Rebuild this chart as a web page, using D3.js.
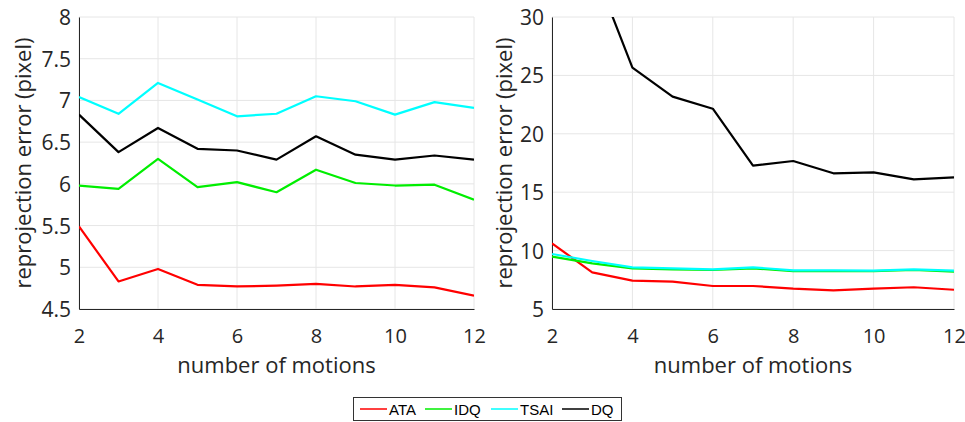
<!DOCTYPE html>
<meta charset="utf-8">
<script src="https://d3js.org/d3.v7.min.js"></script>
<style>
body { margin: 0; background: #fff; }
.tick text { font: 21px "Open Sans", sans-serif; fill: #262626; }
.xTicks .tick text { font-size: 20px; }
.axisTitle { font: 22px "Open Sans", sans-serif; fill: #262626; }
.legendText { font: 15px "Liberation Sans", Arial, sans-serif; fill: #000; }
</style>
<div id="chart"></div>
<script>
// data
const motions = [2, 3, 4, 5, 6, 7, 8, 9, 10, 11, 12];
const seriesNames = ["ATA", "IDQ", "TSAI", "DQ"];
const seriesColors = ["#ff0000", "#00ee00", "#00ffff", "#000000"];

const leftATA  = [5.49, 4.83, 4.98, 4.79, 4.77, 4.78, 4.80, 4.77, 4.79, 4.76, 4.66];
const leftIDQ  = [5.98, 5.94, 6.30, 5.96, 6.02, 5.90, 6.17, 6.01, 5.98, 5.99, 5.81];
const leftTSAI = [7.04, 6.84, 7.21, 7.01, 6.81, 6.84, 7.05, 6.99, 6.83, 6.98, 6.91];
const leftDQ   = [6.83, 6.38, 6.67, 6.42, 6.40, 6.29, 6.57, 6.35, 6.29, 6.34, 6.29];

const rightATA  = [10.62, 8.14, 7.43, 7.35, 6.97, 6.97, 6.74, 6.60, 6.74, 6.86, 6.65];
const rightIDQ  = [9.48, 8.91, 8.48, 8.40, 8.34, 8.48, 8.25, 8.25, 8.25, 8.34, 8.19];
const rightTSAI = [9.71, 9.11, 8.57, 8.48, 8.40, 8.57, 8.31, 8.31, 8.29, 8.40, 8.28];
const rightDQ   = [42.0, 34.5, 25.66, 23.18, 22.15, 17.27, 17.67, 16.62, 16.70, 16.10, 16.27];

const xTicks = [2, 4, 6, 8, 10, 12];
const leftYTicks = [4.5, 5, 5.5, 6, 6.5, 7, 7.5, 8];
const rightYTicks = [5, 10, 15, 20, 25, 30];

const W = 965, H = 422;
const svg = d3.select("#chart").append("svg")
  .attr("width", W).attr("height", H);

function panel(id, left, right, top, bottom, yDomain, yTicks, series, titleOff) {
  const x = d3.scaleLinear().domain([2, 12]).range([left, right]);
  const y = d3.scaleLinear().domain(yDomain).range([bottom, top]);
  const g = svg.append("g");

  // grid
  g.selectAll(".gx").data(xTicks).join("line")
    .attr("x1", d => x(d)).attr("x2", d => x(d))
    .attr("y1", top).attr("y2", bottom)
    .attr("stroke", "#e6e6e6").attr("stroke-width", 1);
  g.selectAll(".gy").data(yTicks).join("line")
    .attr("x1", left).attr("x2", right)
    .attr("y1", d => y(d)).attr("y2", d => y(d))
    .attr("stroke", "#e6e6e6").attr("stroke-width", 1);

  // axes
  const xAxis = g.append("g").attr("class", "xTicks")
    .attr("transform", `translate(0,${bottom})`)
    .call(d3.axisBottom(x).tickValues(xTicks).tickSize(0).tickPadding(20));
  xAxis.select(".domain").attr("stroke", "#262626");
  const yAxis = g.append("g")
    .attr("transform", `translate(${left},0)`)
    .call(d3.axisLeft(y).tickValues(yTicks).tickFormat(d3.format("")).tickSize(0).tickPadding(8));
  yAxis.select(".domain").attr("stroke", "#262626");
  yAxis.selectAll(".tick text").attr("dy", "0.36em");

  // clip
  svg.append("clipPath").attr("id", id)
    .append("rect").attr("x", left).attr("y", top)
    .attr("width", right - left).attr("height", bottom - top);

  const line = d3.line().x((d, i) => x(motions[i])).y(d => y(d));
  g.append("g").attr("clip-path", `url(#${id})`)
    .selectAll("path").data(series).join("path")
    .attr("d", d => line(d))
    .attr("fill", "none")
    .attr("stroke", (d, i) => seriesColors[i])
    .attr("stroke-width", 2.2)
    .attr("stroke-linejoin", "round");

  g.append("text").attr("class", "axisTitle")
    .attr("x", (left + right) / 2).attr("y", 373)
    .attr("text-anchor", "middle")
    .text("number of motions");
  g.append("text").attr("class", "axisTitle")
    .attr("transform", `translate(${left - titleOff},${(top + bottom) / 2}) rotate(-90)`)
    .attr("text-anchor", "middle")
    .text("reprojection error (pixel)");
}

panel("clipL", 79, 474, 17, 309, [4.5, 8], leftYTicks,
  [leftATA, leftIDQ, leftTSAI, leftDQ], 48);
panel("clipR", 552, 954, 17, 309, [5, 30], rightYTicks,
  [rightATA, rightIDQ, rightTSAI, rightDQ], 40);

// legend
const lg = svg.append("g");
lg.append("rect").attr("x", 353.5).attr("y", 397.5)
  .attr("width", 268).attr("height", 23)
  .attr("fill", "#fff").attr("stroke", "#333").attr("stroke-width", 1);
const legendPos = [360, 425, 491, 562];
seriesNames.forEach((n, i) => {
  lg.append("line")
    .attr("x1", legendPos[i]).attr("x2", legendPos[i] + 27)
    .attr("y1", 409).attr("y2", 409)
    .attr("stroke", seriesColors[i]).attr("stroke-width", 1.5);
  lg.append("text").attr("class", "legendText")
    .attr("x", legendPos[i] + 29).attr("y", 414.5)
    .text(n);
});
</script>
